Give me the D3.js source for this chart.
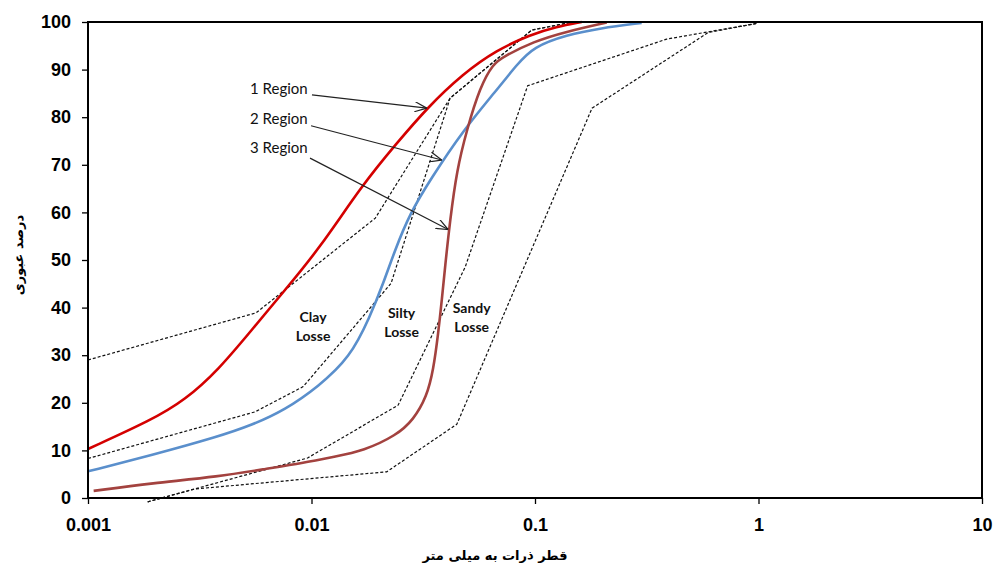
<!DOCTYPE html>
<html><head><meta charset="utf-8">
<script src="https://cdn.jsdelivr.net/npm/d3@7"></script>
<style>body{margin:0;background:#fff}</style>
</head><body><svg id="c" width="995" height="570"></svg>
<script>
// ---- data ----
const xTicks = [0.001, 0.01, 0.1, 1, 10];
const xTickLabels = ["0.001", "0.01", "0.1", "1", "10"];
const yTicks = [0, 10, 20, 30, 40, 50, 60, 70, 80, 90, 100];

const region1 = [[0.001,10.3],[0.00193,16.4],[0.00272,20.6],[0.00383,26.9],[0.0054,35.3],[0.00761,43.7],[0.01073,52.1],[0.01706,66.1],[0.02405,74.5],[0.0328,81.9],[0.0478,89.2],[0.0674,94.1],[0.095,97.3],[0.125,99.0],[0.1618,100]];
const region2 = [[0.001,5.6],[0.00193,9.0],[0.00383,12.9],[0.0054,15.3],[0.00761,18.5],[0.01073,23.4],[0.01487,29.5],[0.01827,38.1],[0.02096,45.1],[0.02363,52.1],[0.02759,59.8],[0.0339,66.8],[0.0478,77.3],[0.0674,85.7],[0.0828,91.0],[0.0983,94.8],[0.1386,97.3],[0.1954,98.7],[0.300,99.8]];
const region3 = [[0.00106,1.5],[0.00193,3.1],[0.00383,4.5],[0.0064,6.2],[0.00904,7.3],[0.01274,8.7],[0.01706,9.9],[0.02405,13.2],[0.02855,16.4],[0.0328,21.3],[0.0351,26.9],[0.0369,34.6],[0.0383,41.6],[0.0396,48.6],[0.0417,58.4],[0.0447,68.9],[0.0495,77.3],[0.0568,86.4],[0.0651,91.3],[0.0722,92.7],[0.0983,95.9],[0.1386,98.0],[0.2094,99.9]];

const boundA = [[0.001,29.0],[0.00565,38.9],[0.0193,58.8],[0.0417,84.0],[0.0966,98.3],[0.148,100]];
const boundB = [[0.001,8.3],[0.00559,18.1],[0.00918,23.4],[0.0227,45.1],[0.0417,84.0],[0.0966,98.3],[0.148,100]];
const boundC = [[0.00185,-0.8],[0.0096,8.4],[0.0244,19.5],[0.0487,48.5],[0.0927,86.6],[0.388,96.4],[0.98,99.7]];
const boundD = [[0.00185,-0.8],[0.00301,1.9],[0.0217,5.5],[0.0447,15.5],[0.180,81.9],[0.596,97.8],[0.98,99.7]];

const seriesNames = ["1 Region", "2 Region", "3 Region"];
const arrowStarts = [[0.01005,84.7],[0.00995,78.2],[0.00985,71.4]];
const arrowTips = [[0.0328,81.9],[0.0383,71.0],[0.0409,56.4]];
const labelAnchors = [[0.00962,85.9],[0.00962,79.6],[0.00962,73.5]];

const zoneNames = [["Clay","Losse"],["Silty","Losse"],["Sandy","Losse"]];
const zoneAnchors = [[0.01016,38.0],[0.0253,38.8],[0.0521,39.9]];

const xTitle = "قطر ذرات به میلی متر";
const yTitle = "درصد عبوری";

// ---- layout ----
const W = 995, H = 570;
const m = {left: 88, top: 22, right: 13, bottom: 72};
const svg = d3.select("#c");
const x = d3.scaleLog().domain([0.001, 10]).range([m.left, W - m.right]);
const y = d3.scaleLinear().domain([0, 100]).range([H - m.bottom, m.top]);

svg.append("rect").attr("width", W).attr("height", H).attr("fill", "#fff");

// axes
const ax = svg.append("g").attr("transform", `translate(0,${H - m.bottom})`)
  .call(d3.axisBottom(x).tickValues(xTicks).tickFormat((d, i) => xTickLabels[i]).tickSize(6).tickPadding(14));
const ay = svg.append("g").attr("transform", `translate(${m.left},0)`)
  .call(d3.axisLeft(y).tickValues(yTicks).tickSize(6).tickPadding(11));
[ax, ay].forEach(g => {
  g.select(".domain").remove();
  g.selectAll(".tick line").attr("stroke", "#000").attr("stroke-width", 1.3);
  g.selectAll(".tick text").attr("font-family", "Liberation Sans, Arial, sans-serif")
    .attr("font-weight", "bold").attr("font-size", 18).attr("fill", "#000");
});

// dashed boundaries
const line = d3.line().x(d => x(d[0])).y(d => y(d[1]));
[boundA, boundB, boundC, boundD].forEach(b => {
  svg.append("path").attr("d", line(b)).attr("fill", "none")
    .attr("stroke", "#111").attr("stroke-width", 1.2).attr("stroke-dasharray", "3,2");
});

// curves
const curve = d3.line().x(d => x(d[0])).y(d => y(d[1])).curve(d3.curveBasis);
const colors = ["#d40000", "#5a8fcc", "#a3423f"];
[region1, region2, region3].forEach((s, i) => {
  svg.append("path").attr("d", curve(s)).attr("fill", "none")
    .attr("stroke", colors[i]).attr("stroke-width", 2.6);
});

// frame
svg.append("rect").attr("x", m.left).attr("y", m.top)
  .attr("width", W - m.left - m.right).attr("height", H - m.top - m.bottom)
  .attr("fill", "none").attr("stroke", "#000").attr("stroke-width", 2);

// arrows
svg.append("defs").append("marker").attr("id", "arr")
  .attr("viewBox", "0 0 12 10").attr("refX", 12).attr("refY", 5)
  .attr("markerWidth", 12).attr("markerHeight", 10).attr("markerUnits", "userSpaceOnUse")
  .attr("orient", "auto")
  .append("path").attr("d", "M0,0 L12,5 L0,10").attr("fill", "none")
  .attr("stroke", "#222").attr("stroke-width", 1.2);

seriesNames.forEach((n, i) => {
  svg.append("line")
    .attr("x1", x(arrowStarts[i][0])).attr("y1", y(arrowStarts[i][1]))
    .attr("x2", x(arrowTips[i][0])).attr("y2", y(arrowTips[i][1]))
    .attr("stroke", "#222").attr("stroke-width", 1.2).attr("marker-end", "url(#arr)");
  svg.append("text").attr("x", x(labelAnchors[i][0])).attr("y", y(labelAnchors[i][1]))
    .attr("dy", "0.35em").attr("text-anchor", "end")
    .attr("font-family", "Lato, sans-serif").attr("font-size", 15).attr("fill", "#111").text(n);
});

zoneNames.forEach((z, i) => {
  const t = svg.append("text").attr("text-anchor", "middle")
    .attr("font-family", "Lato, sans-serif").attr("font-weight", "bold")
    .attr("font-size", 14).attr("fill", "#111");
  z.forEach((w, j) => {
    t.append("tspan").attr("x", x(zoneAnchors[i][0]))
      .attr("y", y(zoneAnchors[i][1]) + j * 19).attr("dy", "0.35em").text(w);
  });
});

// titles
svg.append("text").attr("x", 495).attr("y", 555).attr("text-anchor", "middle")
  .attr("dy", "0.35em")
  .attr("font-family", "DejaVu Sans, sans-serif").attr("font-weight", "bold")
  .attr("font-size", 13).attr("fill", "#000").text(xTitle);
svg.append("text").attr("transform", "translate(18,255) rotate(-90)")
  .attr("text-anchor", "middle").attr("dy", "0.35em")
  .attr("font-family", "DejaVu Sans, sans-serif").attr("font-weight", "bold")
  .attr("font-size", 13).attr("fill", "#000").text(yTitle);
</script>
</body></html>
